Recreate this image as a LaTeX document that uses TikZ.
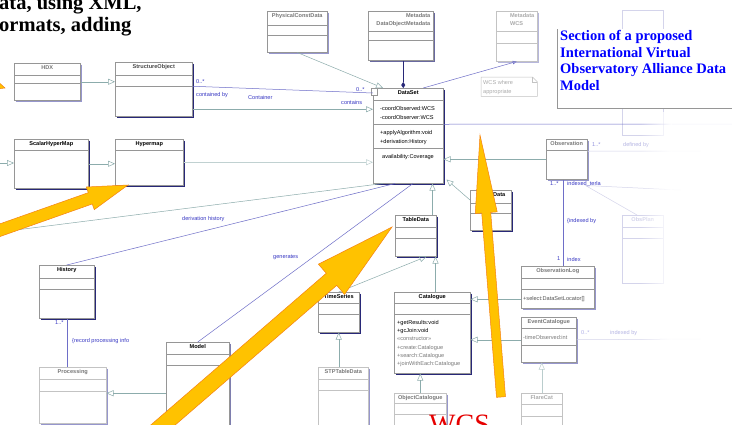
\documentclass[tikz,border=0pt]{standalone}
\usepackage{fontspec}
\setmainfont{Liberation Serif}
\setsansfont{Liberation Sans}
\usetikzlibrary{arrows.meta,calc,fadings,positioning}
\definecolor{boxgray}{RGB}{150,150,150}
\definecolor{paleedge}{RGB}{195,195,195}
\definecolor{navy}{RGB}{40,40,120}
\definecolor{lavender}{RGB}{150,150,205}
\definecolor{ttlgray}{RGB}{120,120,120}
\definecolor{ttlpale}{RGB}{170,170,170}
\definecolor{assoc}{RGB}{110,110,200}
\definecolor{genc}{RGB}{140,172,172}
\definecolor{lblue}{RGB}{55,55,195}
\definecolor{faintc}{RGB}{212,212,235}
\definecolor{arrowfill}{RGB}{255,194,0}
\definecolor{arrowedge}{RGB}{245,130,20}
\definecolor{slideblue}{RGB}{0,0,255}
\definecolor{wcsred}{RGB}{230,0,0}

\tikzfading[name=fadein, left color=transparent!100, right color=transparent!0]

% compartment line of a class box
\newcommand{\compart}[3][boxgray]{\draw[#1, line width=0.5pt] ([yshift=-#3pt]#2.north west) -- ([yshift=-#3pt]#2.north east);}
% dark edge along right and bottom of a class box
\newcommand{\dropshadow}[2][navy]{\draw[#1, line width=1.1pt] ([xshift=0.7pt,yshift=-1.5pt]#2.north east) -- ([xshift=0.7pt,yshift=-0.7pt]#2.south east) -- ([xshift=1.5pt,yshift=-0.7pt]#2.south west);}
% big slide arrow: tail, tip, shaft half width, head half width, head length
\newcommand{\blockarrow}[5]{%
  \coordinate (hb) at ($(#2)!#5!(#1)$);
  \fill[arrowfill, draw=arrowedge, line width=0.5pt]
    ($(#1)!#3!90:(#2)$) -- ($(hb)!#3!90:(#2)$) -- ($(hb)!#4!90:(#2)$) -- (#2)
    -- ($(hb)!#4!-90:(#2)$) -- ($(hb)!#3!-90:(#2)$) -- ($(#1)!#3!-90:(#2)$) -- cycle;}

\begin{document}
\begin{tikzpicture}[x=1pt, y=-1pt,
    cls/.style={draw=boxgray, line width=0.5pt, fill=white, inner sep=0pt, anchor=north west},
    ttl/.style={anchor=north, inner sep=0pt, yshift=-2.6pt, font=\sffamily\bfseries\fontsize{5.6}{7.8}\selectfont},
    ttlg/.style={ttl, text=ttlgray},
    ttlp/.style={ttl, text=ttlpale},
    attr/.style={anchor=west, inner sep=0pt, align=left, font=\sffamily\fontsize{5.6}{8.2}\selectfont},
    lbl/.style={anchor=west, inner sep=0pt, text=lblue, font=\sffamily\fontsize{5.6}{7}\selectfont},
    gen/.style={draw=genc, line width=0.5pt, -{Triangle[open, length=7pt, width=6pt]}},
    asc/.style={draw=assoc, line width=0.5pt}]
\useasboundingbox (0,0) rectangle (732,424);
\clip (0,0) rectangle (732,424);
\fill[white] (0,0) rectangle (732,424);

% faint boxes at the right
\node[cls, draw=faintc, minimum width=41, minimum height=125] (ghost) at (622,10) {};
\node[cls, draw=faintc, minimum width=41, minimum height=68, label={[ttl, text=faintc]north:ObsPlan}] (plan) at (622,215) {};
\compart[faintc]{plan}{12} \compart[faintc]{plan}{23}

% classes
\node[cls, minimum width=66, minimum height=37, label={[ttlg]north:HDX}] (hdx) at (14,63) {};
\compart{hdx}{12} \compart{hdx}{20} \dropshadow[lavender]{hdx}
\node[cls, minimum width=77, minimum height=54, label={[ttl, text=ttlgray!60!black]north:StructureObject}] (so) at (115,62) {};
\compart{so}{13} \compart{so}{24} \dropshadow{so}
\node[cls, minimum width=60, minimum height=41, label={[ttlg]north:PhysicalConstData}] (pcd) at (267,11) {};
\compart{pcd}{14} \compart{pcd}{24} \dropshadow[lavender]{pcd}
\node[cls, minimum width=65, minimum height=49, label={[ttlg, align=right, anchor=north east, xshift=-3pt]north east:Metadata\\DataObjectMetadata}] (dom) at (368,11) {};
\compart{dom}{20} \compart{dom}{29} \dropshadow[navy!70]{dom}
\node[cls, draw=paleedge, minimum width=41, minimum height=50, label={[ttlp, align=left, anchor=north east, xshift=-3pt]north east:Metadata\\WCS}] (wcs) at (496,11) {};
\compart[paleedge]{wcs}{20} \compart[paleedge]{wcs}{32} \dropshadow[lavender!70]{wcs}
\node[cls, minimum width=70, minimum height=95, label={[ttl]north:DataSet}] (ds) at (373,88) {};
\compart{ds}{12} \compart{ds}{36} \compart{ds}{60} \dropshadow{ds}
\node[draw=boxgray, fill=white, line width=0.5pt, inner sep=0pt, minimum width=6, minimum height=7] (dstab) at ([xshift=1.5pt,yshift=-3.5pt]ds.north west) {};
\node[cls, minimum width=74, minimum height=49, label={[ttl]north:ScalarHyperMap}] (shm) at (14,139) {};
\compart{shm}{11} \dropshadow{shm}
\node[cls, minimum width=68, minimum height=46, label={[ttl]north:Hypermap}] (hm) at (115,139) {};
\compart{hm}{11} \dropshadow{hm}
\node[cls, minimum width=41, minimum height=41, label={[ttl]north:TableData}] (td) at (395,215) {};
\compart{td}{12} \compart{td}{23} \dropshadow{td}
\node[cls, minimum width=41, minimum height=40, label={[ttl, anchor=north east, xshift=-6pt]north east:Data}] (dat) at (470,190) {};
\compart{dat}{13} \compart{dat}{23} \dropshadow{dat}
\node[cls, minimum width=41, minimum height=40, label={[ttlg]north:Observation}] (obs) at (546,139) {};
\compart{obs}{11} \dropshadow[lavender]{obs}
\node[cls, minimum width=73, minimum height=42, label={[ttlg]north:ObservationLog}] (ol) at (521,266) {};
\compart{ol}{12} \compart{ol}{23} \dropshadow[lavender]{ol}
\node[cls, minimum width=55, minimum height=45, label={[ttlg]north:EventCatalogue}] (ec) at (521,317) {};
\compart{ec}{11} \compart{ec}{28} \dropshadow[lavender]{ec}
\node[cls, draw=paleedge, minimum width=41, minimum height=40, label={[ttlp]north:FlareCat}] (fc) at (521,393) {};
\compart[paleedge]{fc}{11} \compart[paleedge]{fc}{23}
\node[cls, minimum width=55, minimum height=53, label={[ttl]north:History}] (hist) at (39,265) {};
\compart{hist}{13} \compart{hist}{24} \dropshadow{hist}
\node[cls, draw=paleedge, minimum width=67, minimum height=56, label={[ttlg]north:Processing}] (proc) at (39,367) {};
\compart[paleedge]{proc}{12} \compart[paleedge]{proc}{24} \dropshadow[lavender]{proc}
\node[cls, minimum width=63, minimum height=102, label={[ttl]north:Model}] (model) at (166,342) {};
\compart{model}{12} \compart{model}{23} \dropshadow[navy!60]{model}
\node[cls, minimum width=41, minimum height=40, label={[ttl]north:TimeSeries}] (ts) at (318,292) {};
\compart{ts}{11} \compart{ts}{22} \dropshadow{ts}
\node[cls, minimum width=76, minimum height=81, label={[ttl]north:Catalogue}] (cat) at (394,292) {};
\compart{cat}{11} \compart{cat}{22} \dropshadow{cat}
\node[cls, draw=paleedge, minimum width=50, minimum height=73, label={[ttlg]north:STPTableData}] (stp) at (318,367) {};
\compart[paleedge]{stp}{12} \compart[paleedge]{stp}{23} \dropshadow[lavender]{stp}
\node[cls, draw=paleedge, minimum width=52, minimum height=47, label={[ttlg]north:ObjectCatalogue}] (oc) at (394,393) {};
\compart[paleedge]{oc}{10} \compart[paleedge]{oc}{21} \dropshadow[lavender]{oc}

% attributes and operations
\node[attr, font=\sffamily\fontsize{5.6}{9}\selectfont] (dsatt) at (380,112.5) {-coordObserved:WCS\\-coordObserver:WCS};
\node[attr, font=\sffamily\fontsize{5.6}{9}\selectfont] (dsops) at (380,137.5) {+applyAlgorithm:void\\+derivation:History};
\node[attr] (dsav) at (382,157) {availability:Coverage};
\node[attr] (catops) at (397,343.5) {+getResults:void\\+gcJoin:void\\\textcolor{ttlgray}{<<constructor>>}\\\textcolor{ttlgray}{+create:Catalogue}\\\textcolor{ttlgray}{+search:Catalogue}\\\textcolor{ttlgray}{+joinWithEach:Catalogue}};
\node[attr, text=ttlgray!70!black] (olsel) at (523,299) {+select:DataSetLocator[]};
\node[attr, text=ttlgray] (ectime) at (523,337) {-timeObserved:int};

% note
\node[inner sep=0pt, anchor=north west, minimum width=56, minimum height=19] (note) at (481,77) {};
\draw[paleedge, line width=0.5pt] (note.north west) -- ([xshift=-5pt]note.north east) -- ([yshift=-5pt]note.north east) -- (note.south east) -- (note.south west) -- cycle;
\draw[paleedge, line width=0.5pt] ([xshift=-5pt]note.north east) -- ([xshift=-5pt,yshift=-5pt]note.north east) -- ([yshift=-5pt]note.north east);
\node[attr, text=ttlpale] (notetxt) at (483,87.5) {WCS where\\appropriate};

% generalisations
\coordinate (offl) at (0,163);
\draw[gen] (hdx.east) -- (hdx.east -| so.west);
\draw[gen] (offl) -- (offl -| shm.west);
\draw[gen] (shm.east) -- (shm.east -| hm.west);
\draw[gen, draw=genc!55] (hm.east) -- (hm.east -| ds.west);
\draw[gen] ([yshift=-20pt]so.east) -- ([yshift=-20pt]so.east -| ds.west);
\draw[gen] (pcd.south) -- ([xshift=10pt]ds.north west);
\draw[gen] (obs.west) -- (obs.west -| ds.east);
\draw[gen] ([yshift=-10pt]dat.north west) -- ([xshift=3pt,yshift=4pt]ds.south east);
\draw[gen] ([xshift=-4pt]td.north east) -- ([xshift=-4pt]td.north east |- ds.south);
\draw[gen] (ts.north) -- ([xshift=-10pt]td.south east);
\draw[gen] ([xshift=-1pt]td.south east |- cat.north) -- ([xshift=-1pt]td.south east);
\draw[gen] (stp.north -| ts.south) -- (ts.south);
\draw[gen] (oc.north) -- (oc.north |- cat.south);
\draw[gen] ([yshift=-12pt]ol.west) -- ([yshift=-12pt]ol.west -| cat.east);
\draw[gen] (ec.west) -- (ec.west -| cat.east);
\draw[gen, draw=genc!60] (fc.north) -- (fc.north |- ec.south);
\draw[gen] (model.west) -- (model.west -| proc.east);

% associations
\coordinate (dsright) at (732,124);
\coordinate (dhleft) at (0,232);
\coordinate (defr) at (700,151);
\coordinate (idxr) at (680,190);
\coordinate (ecr) at (700,339);
\draw[asc] ([yshift=3pt]so.east) -- ([yshift=-5pt]ds.north west);
\draw[asc, -{Diamond[length=6pt, width=4pt]}, navy] ([xshift=2.5pt]dom.south) -- ([xshift=2.5pt]dom.south |- ds.north);
\draw[asc, -{Latex[open, length=4pt, width=4pt]}] ([xshift=15pt]ds.north) -- (wcs.south);
\draw[asc] ([yshift=11.5pt]ds.east) -- (dsright);
\draw[asc, draw=genc] (dhleft) -- ([xshift=10pt]ds.south west);
\draw[asc] (hist.north) -- ([xshift=22pt]ds.south west);
\draw[asc] ([xshift=40pt]ds.south west) -- (model.north);
\draw[asc] (hist.south) -- (hist.south |- proc.north);
\draw[asc] ([xshift=-3.5pt]obs.south) -- ([xshift=-3.5pt]obs.south |- ol.north);
\draw[faintc, line width=0.5pt] ([yshift=8pt]obs.east) -- (defr);
\draw[faintc, line width=0.5pt] ([xshift=-2pt,yshift=-6pt]obs.south east) -- (idxr);
\draw[faintc, line width=0.5pt] ([xshift=-2pt,yshift=-6pt]obs.south east) -- ([xshift=15pt]plan.north west);
\draw[faintc, line width=0.5pt] (ec.east) -- (ecr);

% association labels
\node[lbl] (mso) at (196,82) {0..*};
\node[lbl] (cby) at (196,95) {contained by};
\node[lbl] (ctr) at (248,97) {Container};
\node[lbl] (mds) at (356,90) {0..*};
\node[lbl] (cts) at (341,102) {contains};
\node[lbl] (dhist) at (182,219) {derivation history};
\node[lbl] (gens) at (273,257) {generates};
\node[lbl] (mhist) at (55,323) {1..*};
\node[lbl] (rpi) at (72,341) {\{record processing info};
\node[lbl] (mobs) at (550,184) {1..*};
\node[lbl] (idt) at (567,184) {indexed\_terla};
\node[lbl] (idb) at (567,221) {\{indexed by};
\node[lbl] (mol) at (557,259) {1};
\node[lbl] (idx) at (567,259) {index};
\node[lbl, text=lblue!55] (mdef) at (592,145) {1..*};
\node[lbl, text=faintc!80!lblue] (dfb) at (623,145) {defined by};
\node[lbl, text=lblue!40] (mec) at (581,333) {0..*};
\node[lbl, text=faintc!80!lblue] (idb2) at (610,333) {indexed by};

% fade on the right
\fill[white, path fading=fadein] (640,112) rectangle (672,424);
\fill[white, fill opacity=0.92] (672,112) rectangle (733,424);

% title box
\node[anchor=north west, fill=white, inner sep=0pt, minimum width=176, minimum height=79] (ttlbox) at (557,29) {};
\draw[boxgray, line width=0.6pt] (ttlbox.north west) -- (ttlbox.south west) -- (ttlbox.south east);
\node[anchor=north west, inner sep=0pt, align=left, text=slideblue, font=\bfseries\fontsize{14.5}{16.5}\selectfont] (ttltext) at (560,30.5) {Section of a proposed\\International Virtual\\Observatory Alliance Data\\Model};

% slide text
\node[anchor=base west, inner sep=0pt, font=\bfseries\fontsize{20.5}{22}\selectfont] (head1) at (-1,9.5) {ata, using XML,};
\node[anchor=base west, inner sep=0pt, font=\bfseries\fontsize{20.5}{22}\selectfont] (head2) at (-1,31.5) {ormats, adding};
\node[anchor=base west, inner sep=0pt, text=wcsred, font=\fontsize{28}{28}\selectfont] (wcsword) at (429,433) {WCS};

% yellow arrows
\coordinate (atail) at (-25,239);
\coordinate (atip) at (128,185);
\coordinate (btail) at (141,444);
\coordinate (btip) at (392,227);
\coordinate (ctail) at (501,397);
\coordinate (ctip) at (480,135);
\coordinate (dtail) at (-45,72);
\coordinate (dtip) at (5,88);
\blockarrow{atail}{atip}{6pt}{12pt}{40pt}
\blockarrow{btail}{btip}{8pt}{20pt}{80pt}
\blockarrow{ctail}{ctip}{4.5pt}{11pt}{78pt}
\blockarrow{dtail}{dtip}{5pt}{10pt}{22pt}
\end{tikzpicture}
\end{document}
